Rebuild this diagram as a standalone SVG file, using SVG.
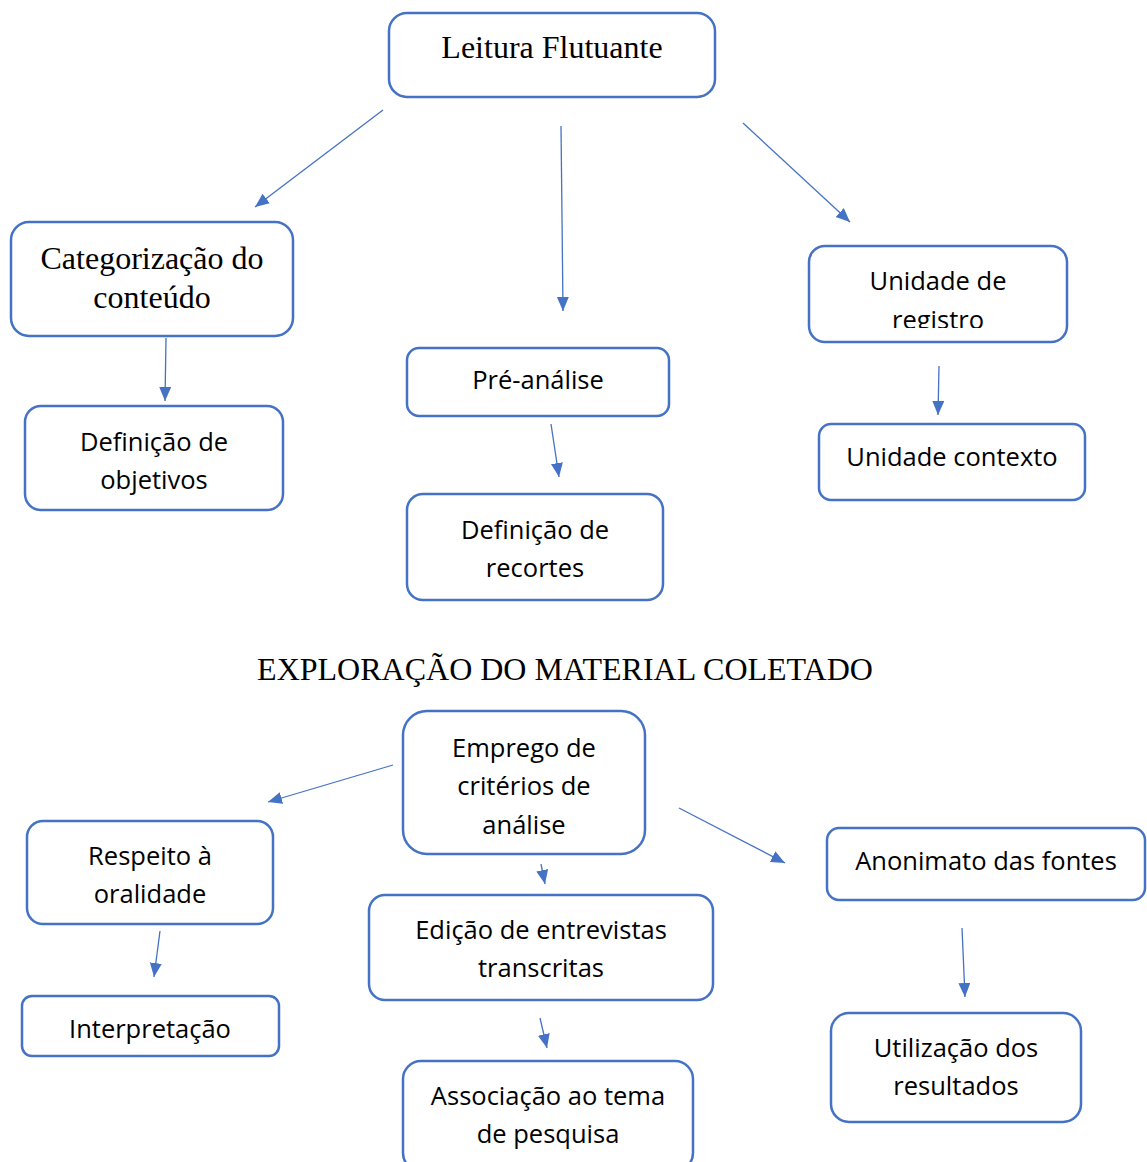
<svg xmlns="http://www.w3.org/2000/svg" width="1147" height="1162" viewBox="0 0 1147 1162">
<defs>
<style>
.box{fill:#fff;stroke:#4472C4;stroke-width:2.5}
.s{font-family:"Liberation Serif",serif;font-size:32px;fill:#000;text-anchor:middle}
.t{font-family:"Open Sans","Liberation Sans",sans-serif;font-size:25.5px;fill:#000;text-anchor:middle}
.c line{stroke:#4472C4;stroke-width:1.3;marker-end:url(#ah)}
</style>
<marker id="ah" markerUnits="userSpaceOnUse" markerWidth="15" markerHeight="13" refX="14" refY="6" orient="auto">
<path d="M0,0 L14,6 L0,12 z" fill="#4472C4"/>
</marker>
<clipPath id="clipReg"><rect x="809" y="246" width="258" height="82"/></clipPath>
</defs>
<rect width="1147" height="1162" fill="#fff"/>
<g id="n-leitura"><rect class="box" x="389" y="13" width="326" height="84" rx="18"/><text class="s" x="552" y="58">Leitura Flutuante</text></g>
<g id="n-categorizacao"><rect class="box" x="11" y="222" width="282" height="114" rx="18"/><text class="s" x="152" y="269">Categorização do</text><text class="s" x="152" y="308">conteúdo</text></g>
<g id="n-pre"><rect class="box" x="407" y="348" width="262" height="68" rx="12"/><text class="t" x="538" y="389">Pré-análise</text></g>
<g id="n-registro"><rect class="box" x="809" y="246" width="258" height="96" rx="16"/><text class="t" x="938" y="290">Unidade de</text><text class="t" x="938" y="329" clip-path="url(#clipReg)">registro</text></g>
<g id="n-objetivos"><rect class="box" x="25" y="406" width="258" height="104" rx="16"/><text class="t" x="154" y="451">Definição de</text><text class="t" x="154" y="489">objetivos</text></g>
<g id="n-recortes"><rect class="box" x="407" y="494" width="256" height="106" rx="16"/><text class="t" x="535" y="539">Definição de</text><text class="t" x="535" y="577">recortes</text></g>
<g id="n-contexto"><rect class="box" x="819" y="424" width="266" height="76" rx="12"/><text class="t" x="952" y="466">Unidade contexto</text></g>
<g id="title"><text class="s" x="565" y="680">EXPLORAÇÃO DO MATERIAL COLETADO</text></g>
<g id="n-emprego"><rect class="box" x="403" y="711" width="242" height="143" rx="24"/><text class="t" x="524" y="757">Emprego de</text><text class="t" x="524" y="795">critérios de</text><text class="t" x="524" y="834">análise</text></g>
<g id="n-respeito"><rect class="box" x="27" y="821" width="246" height="103" rx="16"/><text class="t" x="150" y="865">Respeito à</text><text class="t" x="150" y="903">oralidade</text></g>
<g id="n-anonimato"><rect class="box" x="827" y="828" width="318" height="72" rx="12"/><text class="t" x="986" y="870">Anonimato das fontes</text></g>
<g id="n-edicao"><rect class="box" x="369" y="895" width="344" height="105" rx="16"/><text class="t" x="541" y="939">Edição de entrevistas</text><text class="t" x="541" y="977">transcritas</text></g>
<g id="n-interpretacao"><rect class="box" x="22" y="996" width="257" height="60" rx="10"/><text class="t" x="150" y="1038">Interpretação</text></g>
<g id="n-utilizacao"><rect class="box" x="831" y="1013" width="250" height="109" rx="18"/><text class="t" x="956" y="1057">Utilização dos</text><text class="t" x="956" y="1095">resultados</text></g>
<g id="n-associacao"><rect class="box" x="403" y="1061" width="290" height="110" rx="18"/><text class="t" x="548" y="1105">Associação ao tema</text><text class="t" x="548" y="1143">de pesquisa</text></g>
<g id="connectors" class="c">
<line x1="383" y1="110" x2="255" y2="207"/>
<line x1="561" y1="126" x2="563" y2="311"/>
<line x1="743" y1="123" x2="850" y2="222"/>
<line x1="166" y1="338" x2="165" y2="401"/>
<line x1="551" y1="424" x2="559" y2="477"/>
<line x1="939" y1="366" x2="938" y2="415"/>
<line x1="393" y1="765" x2="268" y2="802"/>
<line x1="679" y1="808" x2="785" y2="863"/>
<line x1="541" y1="864" x2="545" y2="884"/>
<line x1="160" y1="931" x2="154" y2="977"/>
<line x1="540" y1="1018" x2="547" y2="1048"/>
<line x1="962" y1="928" x2="965" y2="997"/>
</g>
</svg>
